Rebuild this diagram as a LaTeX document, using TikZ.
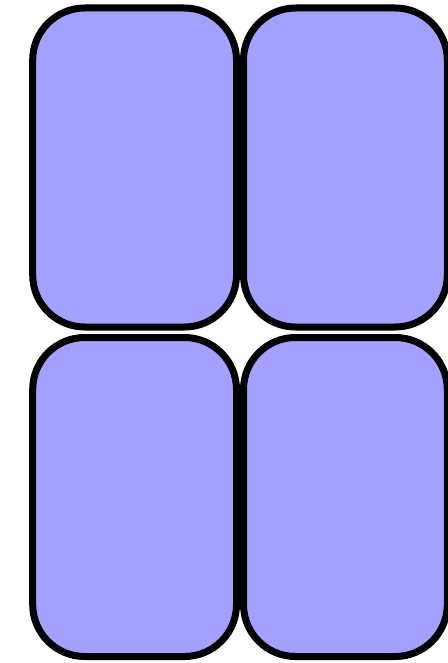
\documentclass[tikz,border=0pt]{standalone}
\definecolor{boxfill}{RGB}{164,160,255}
\begin{document}
\begin{tikzpicture}[x=1pt,y=-1pt,
  card/.style={draw=black,fill=boxfill,line width=7pt,rounded corners=52pt}]
\useasboundingbox (0,0) rectangle (447,663);
\fill[white] (0,0) rectangle (447,663);
\draw[card] (32.7,8) rectangle (236.5,327) coordinate (a);
\draw[card] (243.5,8) rectangle (447.3,327) coordinate (b);
\draw[card] (32.7,337.5) rectangle (236.5,656.5) coordinate (c);
\draw[card] (243.5,337.5) rectangle (447.3,656.5) coordinate (d);
\end{tikzpicture}
\end{document}
